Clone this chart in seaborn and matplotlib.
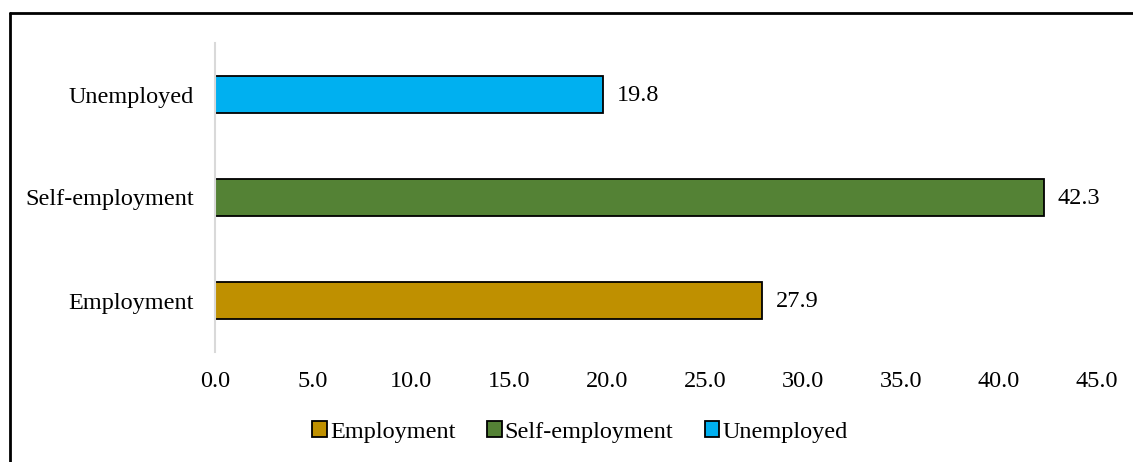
import matplotlib
matplotlib.use("Agg")
import matplotlib.pyplot as plt
from matplotlib.patches import Patch
from matplotlib.lines import Line2D
import seaborn as sns
import pandas as pd

# Shares by labour-market status
categories = ["Unemployed", "Self-employment", "Employment"]
values = [19.8, 42.3, 27.9]
legend_order = ["Employment", "Self-employment", "Unemployed"]
x_ticks = [0, 5, 10, 15, 20, 25, 30, 35, 40, 45]
palette = {"Employment": "#BF9000", "Self-employment": "#548235", "Unemployed": "#00B0F0"}

sns.set_theme(style="white")
plt.rcParams["font.family"] = ["Liberation Serif", "DejaVu Serif"]
plt.rcParams["text.color"] = "black"

FS = 17.5

df = pd.DataFrame({"status": categories, "share": values})

fig = plt.figure(figsize=(11.33, 4.62), dpi=100)
ax = fig.add_axes([215 / 1133, 1 - 352 / 462, (1097 - 215) / 1133, 309 / 462])

sns.barplot(data=df, x="share", y="status", hue="status", order=categories,
            hue_order=categories, palette=palette, saturation=1, dodge=False,
            width=0.35, edgecolor="black", linewidth=1.3, legend=False, ax=ax)

for i, v in enumerate(values):
    ax.annotate(f"{v:.1f}", xy=(v, i), xytext=(10, -1), textcoords="offset points",
                ha="left", va="center", fontsize=FS, color="black")

ax.set_xlim(0, 45)
ax.set_xticks(x_ticks)
ax.set_xticklabels([f"{t:.1f}" for t in x_ticks])
ax.tick_params(axis="both", length=0, labelsize=FS, colors="black")
ax.tick_params(axis="x", pad=14)
ax.tick_params(axis="y", pad=15)
ax.set_xlabel("")
ax.set_ylabel("")
for side in ["top", "right", "bottom"]:
    ax.spines[side].set_visible(False)
ax.spines["left"].set_color("#D9D9D9")
ax.spines["left"].set_linewidth(1.5)

handles = [Patch(facecolor=palette[k], edgecolor="black", linewidth=1.3) for k in legend_order]
fig.legend(handles, legend_order, loc="center", bbox_to_anchor=(580 / 1133, 1 - 432 / 462),
           ncol=3, frameon=False, fontsize=FS, handlelength=0.6, handleheight=0.6,
           handletextpad=0.12, columnspacing=1.3, labelcolor="black")

# Outer frame: top and left edges
fig.add_artist(Line2D([10 / 1133, 1.0], [1 - 13 / 462, 1 - 13 / 462], color="black",
                      linewidth=2.0, transform=fig.transFigure))
fig.add_artist(Line2D([10 / 1133, 10 / 1133], [0.0, 1 - 13 / 462], color="black",
                      linewidth=2.0, transform=fig.transFigure))

fig.savefig("out.png", dpi=100, facecolor="white")
